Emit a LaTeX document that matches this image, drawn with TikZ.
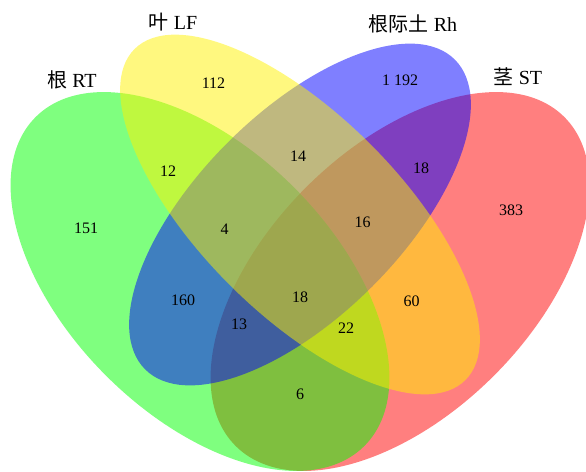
\documentclass[tikz,border=0pt]{standalone}
\usepackage{fontspec}
\setmainfont{Liberation Serif}
\newfontfamily\cjk{Noto Sans CJK SC}
\begin{document}
\begin{tikzpicture}
    [
    x=1pt,y=-1pt,
    set/.style={fill opacity=0.5},
    count/.style={font=\fontsize{16}{18}\selectfont,inner sep=0pt},
    title/.style={font=\fontsize{20}{22}\selectfont,inner sep=0pt},
    ]
    \useasboundingbox (0,0) rectangle (586,471);
    \coordinate (cRT) at (200,281.5);
    \coordinate (cST) at (400,281.5);
    \coordinate (cLF) at (300,214.5);
    \coordinate (cRh) at (300,214.5);
    \fill[set,red,rotate around={45:(cST)}] (cST) ellipse (232.5pt and 133pt);
    \fill[set,green,rotate around={-45:(cRT)}] (cRT) ellipse (232.5pt and 133pt);
    \fill[set,blue,rotate around={45:(cRh)}] (cRh) ellipse (219pt and 102pt);
    \fill[set,yellow,rotate around={-45:(cLF)}] (cLF) ellipse (234pt and 99.5pt);
    \node[title] (tRT) at (72,80) {{\cjk 根} RT};
    \node[title] (tLF) at (173,22) {{\cjk 叶} LF};
    \node[title] (tRh) at (413,24) {{\cjk 根际土} Rh};
    \node[title] (tST) at (518,77) {{\cjk 茎} ST};
    \node[count] (nRT) at (86,228) {151};
    \node[count] (nLF) at (213.5,83) {112};
    \node[count] (nRh) at (400,80) {1 192};
    \node[count] (nST) at (511,210) {383};
    \node[count] (nRTLF) at (168,171) {12};
    \node[count] (nLFRh) at (298,156) {14};
    \node[count] (nRhST) at (421,168) {18};
    \node[count] (nRTLFRh) at (224.5,229) {4};
    \node[count] (nLFRhST) at (362.5,222) {16};
    \node[count] (nRTRh) at (183,300) {160};
    \node[count] (nAll) at (300,297) {18};
    \node[count] (nLFST) at (411.5,301) {60};
    \node[count] (nRTRhST) at (239,324.5) {13};
    \node[count] (nRTLFST) at (346,328) {22};
    \node[count] (nRTST) at (300,394) {6};
\end{tikzpicture}
\end{document}
